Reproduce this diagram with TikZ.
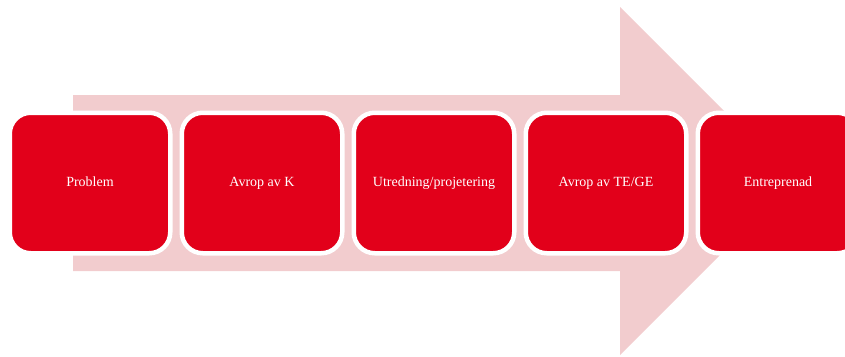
\documentclass[tikz,border=0pt]{standalone}
\usepackage{fontspec}
\setmainfont{Liberation Serif}
\usepackage{xcolor}
\usepackage{tikz}
\definecolor{stepred}{HTML}{E2001A}
\definecolor{arrowpink}{HTML}{F2CCCE}

\begin{document}
\begin{tikzpicture}[x=1pt, y=-1pt,
  stepbox/.style={fill=stepred, draw=white, line width=4.5pt, rounded corners=21pt,
    minimum width=160.5pt, minimum height=140.5pt, inner sep=0pt,
    text height=1.9ex, text depth=0.4ex,
    text=white, font=\fontsize{14}{16}\selectfont}]
  \useasboundingbox (0,0) rectangle (845,356);
  % Background arrow
  \fill[arrowpink] (73,95) -- (620,95) -- (620,7) -- (794,181)
    -- (620,355) -- (620,271) -- (73,271) -- cycle;
  % Steps
  \foreach \name/\txt [count=\i from 0] in {prob/Problem, avk/Avrop av K,
      utr/Utredning\slash projetering, avte/Avrop av TE\slash GE, entr/Entreprenad} {
    \node[stepbox] (\name) at (90+\i*172, 183) {\txt};
  }
\end{tikzpicture}
\end{document}
